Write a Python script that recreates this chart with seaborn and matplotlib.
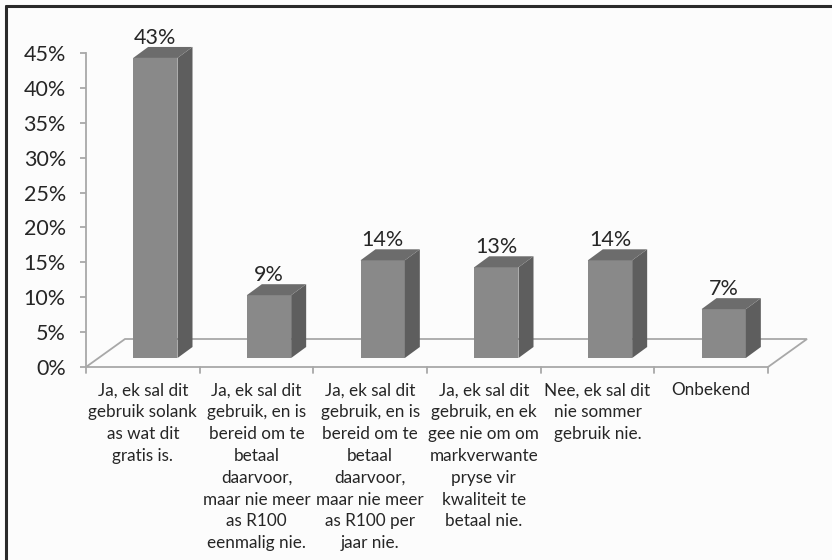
import matplotlib
matplotlib.use('Agg')
import matplotlib.pyplot as plt
import matplotlib.transforms as mtransforms
from matplotlib.patches import Polygon
from matplotlib.lines import Line2D
from matplotlib.ticker import FuncFormatter
import seaborn as sns

# Chart data
categories = [
    'Ja, ek sal dit\ngebruik solank\nas wat dit\ngratis is.',
    'Ja, ek sal dit\ngebruik, en is\nbereid om te\nbetaal\ndaarvoor,\nmaar nie meer\nas R100\neenmalig nie.',
    'Ja, ek sal dit\ngebruik, en is\nbereid om te\nbetaal\ndaarvoor,\nmaar nie meer\nas R100 per\njaar nie.',
    'Ja, ek sal dit\ngebruik, en ek\ngee nie om om\nmarkverwante\npryse vir\nkwaliteit te\nbetaal nie.',
    'Nee, ek sal dit\nnie sommer\ngebruik nie.',
    'Onbekend',
]
values = [43, 9, 14, 13, 14, 7]
value_labels = ['43%', '9%', '14%', '13%', '14%', '7%']
y_ticks = [0, 5, 10, 15, 20, 25, 30, 35, 40, 45]

front_col = '#898989'
side_col = '#5e5e5e'
top_col = '#6c6c6c'
axis_col = '#a8a8a8'
text_col = '#262626'

sns.set_theme(style='white')
plt.rcParams['font.family'] = ['Lato', 'DejaVu Sans']

W, H = 832, 560
fig = plt.figure(figsize=(W / 100, H / 100), dpi=100)
fig.patch.set_facecolor('#fcfcfc')

# axes placed in pixels: x from 86 to 768, y from 367 (0%) to 53 (45%)
ax = fig.add_axes([86 / W, (H - 367) / H, (768 - 86) / W, (367 - 53) / H])
ax.set_facecolor('none')

sns.barplot(x=list(range(len(values))), y=values, color=front_col,
            saturation=1, width=0.39, ax=ax, zorder=3, linewidth=0)
ax.set_xlim(-0.5, len(values) - 0.5)
ax.set_ylim(0, 45)

# spines / ticks
for s in ['top', 'right', 'bottom']:
    ax.spines[s].set_visible(False)
ax.spines['left'].set_color(axis_col)
ax.spines['left'].set_linewidth(1.3)
ax.set_yticks(y_ticks)
ax.yaxis.set_major_formatter(FuncFormatter(lambda v, p: f'{v:.0f}%'))
ax.tick_params(axis='y', left=True, length=4.5, width=1.3, color=axis_col,
               labelsize=15.5, labelcolor=text_col, pad=10)
ax.set_xticks(range(len(categories)))
ax.set_xticklabels(categories, fontsize=12.3, color=text_col, linespacing=1.45)
ax.tick_params(axis='x', bottom=True, length=0, pad=11)
ax.set_xlabel('')
ax.set_ylabel('')

# pseudo 3D: floor, bar sides and tops
fig.canvas.draw()
to_px = ax.transData.transform
ident = mtransforms.IdentityTransform()
fdx, fdy = 39, 28      # floor depth in px
bdx, bdy = 12.5, 9     # bar front offset in px
sdx, sdy = 15, 11      # bar depth in px

x0, y0 = to_px((-0.5, 0))
x1, _ = to_px((len(values) - 0.5, 0))
floor = Polygon([(x0, y0), (x1, y0), (x1 + fdx, y0 + fdy), (x0 + fdx, y0 + fdy)],
                closed=True, facecolor='none', edgecolor=axis_col, lw=1.3,
                transform=ident, zorder=1, clip_on=False)
ax.add_patch(floor)
# front axis ticks at category boundaries
for i in range(len(values) + 1):
    tx, ty = to_px((i - 0.5, 0))
    ax.add_line(Line2D([tx, tx], [ty, ty - 6], color=axis_col, lw=1.3,
                       transform=ident, clip_on=False, zorder=1))

shift = mtransforms.Affine2D().translate(bdx, bdy)
for patch, lab in zip(ax.patches[:len(values)], value_labels):
    (px0, py0) = to_px((patch.get_x(), 0))
    (px1, py1) = to_px((patch.get_x() + patch.get_width(), patch.get_height()))
    px0 += bdx; px1 += bdx; py0 += bdy; py1 += bdy
    patch.set_transform(ax.transData + shift)
    patch.set_clip_on(False)
    side = Polygon([(px1, py0), (px1 + sdx, py0 + sdy), (px1 + sdx, py1 + sdy), (px1, py1)],
                   closed=True, facecolor=side_col, edgecolor='none',
                   transform=ident, zorder=3, clip_on=False)
    top = Polygon([(px0, py1), (px1, py1), (px1 + sdx, py1 + sdy), (px0 + sdx, py1 + sdy)],
                  closed=True, facecolor=top_col, edgecolor='none',
                  transform=ident, zorder=3, clip_on=False)
    ax.add_patch(side)
    ax.add_patch(top)
    ax.text((px0 + px1) / 2, py1 + 20, lab, transform=ident, ha='center', va='center',
            fontsize=15.5, color=text_col, zorder=4)

# picture frame (top and left edges)
fig.add_artist(Line2D([6 / W, 1], [1 - 6 / H, 1 - 6 / H], color='#2a2a2a', lw=2.2))
fig.add_artist(Line2D([6 / W, 6 / W], [0, 1 - 6 / H], color='#2a2a2a', lw=2.2))

fig.savefig('out.png', dpi=100, facecolor=fig.get_facecolor())
